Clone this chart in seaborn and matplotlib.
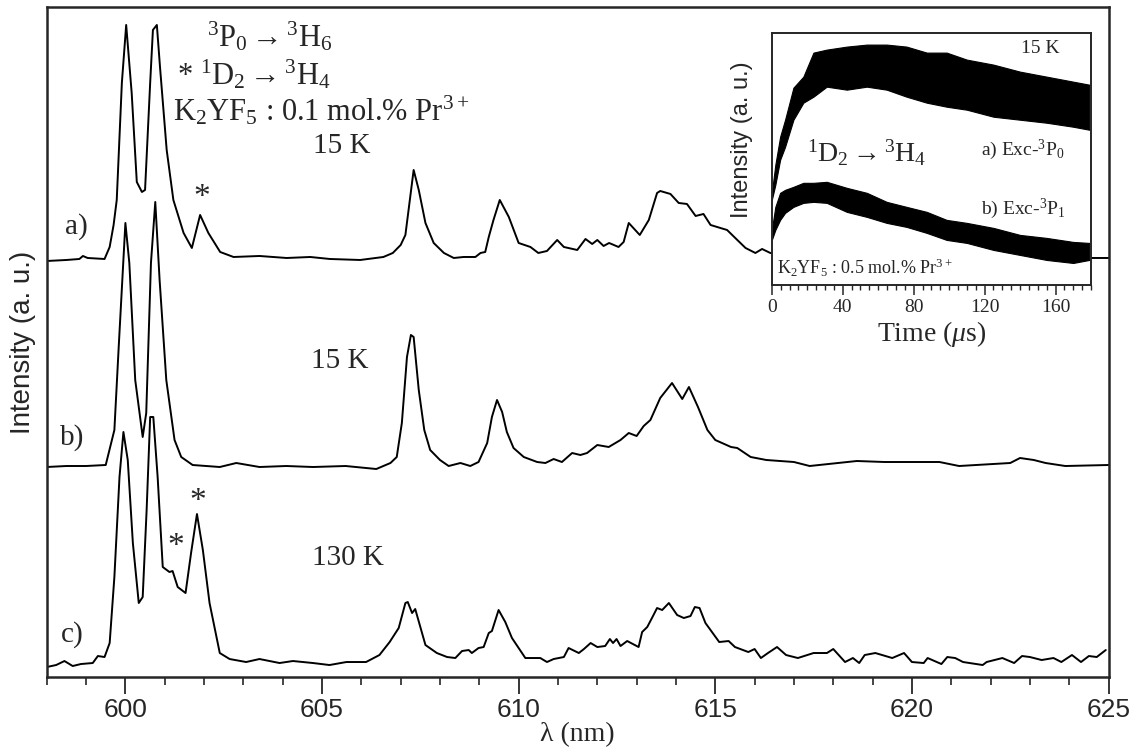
import matplotlib
matplotlib.use("Agg")
from matplotlib import pyplot as plt
from matplotlib.ticker import MultipleLocator
import seaborn as sns
import pandas as pd
import numpy as np

# ---- spectrum a) 15 K, K2YF5:0.1% Pr (vertically offset, a.u.)
wl_a = [598.0, 598.5, 598.83, 598.92, 599.04, 599.47, 599.6, 599.7, 599.78, 599.91, 600.02, 600.16,
        600.29, 600.42, 600.5, 600.63, 600.7, 600.8, 600.88, 601.05, 601.22, 601.48, 601.69, 601.9,
        602.11, 602.41, 602.75, 603.41, 604.1, 604.7, 605.2, 605.97, 606.56, 606.8, 607.0, 607.12,
        607.33, 607.46, 607.63, 607.84, 608.1, 608.35, 608.6, 608.9, 609.03, 609.15, 609.24, 609.36,
        609.52, 609.75, 610.0, 610.3, 610.5, 610.72, 610.98, 611.15, 611.49, 611.7, 611.87, 612.0,
        612.16, 612.3, 612.54, 612.67, 612.8, 613.08, 613.31, 613.52, 613.6, 613.86, 614.07, 614.28,
        614.5, 614.7, 614.88, 615.13, 615.3, 615.56, 615.77, 616.02, 616.19, 616.4, 617.0, 618.0,
        619.0, 620.0, 621.0, 622.0, 623.0, 624.0, 625.0]
int_a = [416, 417, 418, 421, 419, 418, 430, 452, 477, 594, 652, 584,
         495, 485, 487, 594, 647, 652, 610, 527, 477, 444, 429, 462,
         444, 425, 420, 421, 419, 420, 418, 417, 420, 424, 432, 442,
         507, 487, 454, 434, 424, 419, 420, 420, 424, 425, 440, 457,
         477, 460, 434, 430, 424, 426, 437, 430, 427, 438, 433, 437,
         431, 434, 430, 435, 454, 442, 457, 484, 486, 483, 474, 473,
         461, 463, 452, 449, 447, 437, 429, 424, 428, 424, 421, 420,
         420, 420, 420, 420, 420, 419, 419]

# ---- spectrum b) 15 K
wl_b = [598.0, 598.5, 599.0, 599.5, 599.72, 599.83, 600.0, 600.1, 600.25, 600.44, 600.53, 600.65,
        600.76, 600.87, 601.04, 601.25, 601.42, 601.71, 602.4, 602.82, 603.41, 604.09, 604.77, 605.6,
        606.38, 606.74, 606.9, 607.03, 607.16, 607.26, 607.33, 607.46, 607.6, 607.75, 608.0, 608.22,
        608.52, 608.77, 608.98, 609.2, 609.32, 609.45, 609.58, 609.7, 609.87, 610.13, 610.47, 610.68,
        610.89, 611.1, 611.36, 611.57, 611.74, 612.0, 612.29, 612.59, 612.8, 613.0, 613.18, 613.35,
        613.6, 613.9, 614.16, 614.33, 614.56, 614.8, 615.0, 615.4, 615.56, 615.9, 616.3, 617.0,
        617.4, 618.6, 619.3, 620.7, 621.2, 622.5, 622.75, 623.1, 623.4, 623.9, 625.0]
int_b = [210, 211, 211, 212, 247, 330, 454, 414, 297, 240, 264, 414,
         475, 397, 297, 237, 220, 212, 210, 214, 210, 211, 210, 211,
         208, 214, 220, 254, 320, 342, 340, 287, 247, 227, 217, 211,
         214, 211, 215, 234, 260, 277, 265, 245, 229, 220, 215, 214,
         218, 215, 224, 222, 224, 232, 230, 237, 244, 241, 251, 257,
         279, 294, 278, 290, 270, 247, 237, 230, 229, 220, 217, 215,
         211, 216, 215, 215, 211, 214, 219, 217, 214, 211, 212]

# ---- spectrum c) 130 K
wl_c = [598.0, 598.24, 598.45, 598.66, 598.87, 599.17, 599.3, 599.47, 599.6, 599.72, 599.85, 599.95,
        600.06, 600.19, 600.34, 600.44, 600.54, 600.63, 600.71, 600.82, 600.95, 601.12, 601.2, 601.33,
        601.53, 601.67, 601.82, 601.97, 602.14, 602.4, 602.65, 603.07, 603.41, 603.92, 604.26, 604.77,
        605.19, 605.62, 606.12, 606.46, 606.72, 606.95, 607.12, 607.18, 607.29, 607.37, 607.5, 607.63,
        607.92, 608.18, 608.39, 608.56, 608.73, 608.81, 608.98, 609.11, 609.24, 609.32, 609.49, 609.66,
        609.83, 610.0, 610.17, 610.55, 610.72, 610.89, 611.15, 611.27, 611.53, 611.66, 611.83, 612.0,
        612.2, 612.32, 612.4, 612.49, 612.59, 612.76, 613.05, 613.14, 613.27, 613.39, 613.52, 613.65,
        613.82, 614.03, 614.2, 614.37, 614.48, 614.6, 614.75, 615.1, 615.34, 615.5, 615.84, 616.0,
        616.16, 616.34, 616.57, 616.8, 617.1, 617.5, 617.84, 618.0, 618.3, 618.5, 618.66, 618.8,
        619.07, 619.5, 619.8, 620.0, 620.3, 620.4, 620.75, 620.9, 621.1, 621.3, 621.8, 621.9,
        622.3, 622.6, 622.8, 623.0, 623.3, 623.6, 623.8, 624.07, 624.3, 624.5, 624.7, 624.93]
int_c = [10, 12, 16, 11, 13, 14, 21, 20, 34, 100, 200, 245,
         217, 134, 74, 80, 167, 260, 260, 200, 110, 105, 106, 90,
         84, 124, 163, 127, 74, 24, 18, 15, 18, 14, 16, 14,
         12, 15, 15, 22, 35, 49, 74, 75, 64, 68, 50, 32,
         24, 20, 19, 26, 27, 24, 29, 30, 44, 46, 67, 55,
         39, 29, 19, 19, 15, 18, 20, 29, 24, 28, 34, 30,
         31, 38, 34, 38, 31, 36, 30, 45, 50, 59, 69, 67,
         74, 62, 59, 61, 70, 69, 54, 35, 36, 30, 25, 28,
         19, 24, 30, 22, 19, 24, 24, 28, 15, 19, 14, 22,
         24, 19, 24, 15, 14, 19, 13, 20, 19, 15, 12, 15,
         19, 14, 21, 20, 17, 19, 15, 22, 15, 21, 20, 27]

# ---- inset: 1D2 -> 3H4 decay curves, envelope of the noisy traces (a.u.)
t_in = [0, 2, 4.7, 7.5, 12.2, 17.8, 23.5, 31, 42.3, 53.6, 64.8, 76, 87.4, 98.6, 110, 125, 140, 155, 170, 179]
a_hi = [92, 120, 148, 165, 197, 208, 232, 235, 238, 240, 240, 238, 232, 232, 225, 220, 213, 208, 203, 200]
a_lo = [85, 100, 125, 138, 165, 182, 188, 198, 195, 198, 195, 188, 182, 178, 175, 168, 165, 162, 158, 155]
b_hi = [55, 78, 92, 95, 98, 102, 102, 103, 97, 92, 83, 78, 73, 65, 62, 57, 50, 47, 43, 42]
b_lo = [45, 55, 65, 72, 78, 82, 83, 82, 73, 68, 62, 58, 52, 45, 42, 35, 30, 25, 22, 25]

sns.set_style("ticks")
plt.rcParams['font.family'] = ['Liberation Serif', 'DejaVu Serif']
plt.rcParams['mathtext.fontset'] = 'custom'
plt.rcParams['mathtext.rm'] = 'Liberation Serif'
plt.rcParams['mathtext.it'] = 'Liberation Serif:italic'

fig = plt.figure(figsize=(11.4, 7.49), dpi=100)
ax = fig.add_axes([0.041, 0.0961, 0.9314, 0.8946])

for wl, it in [(wl_a, int_a), (wl_b, int_b), (wl_c, int_c)]:
    d = pd.DataFrame({"wl": wl, "I": it})
    sns.lineplot(x="wl", y="I", data=d, ax=ax, color="black", lw=1.4, sort=False)

ax.set_xlim(598, 625)
ax.set_ylim(0, 670)
ax.set_yticks([])
ax.xaxis.set_major_locator(MultipleLocator(5))
ax.xaxis.set_minor_locator(MultipleLocator(1))
ax.tick_params(axis="x", which="major", length=12, width=1.3, direction="out", labelsize=19, pad=3)
ax.tick_params(axis="x", which="minor", length=6, width=1.2, direction="out")
for lab in ax.get_xticklabels():
    lab.set_family(['Liberation Sans Narrow', 'Liberation Sans'])
for s in ax.spines.values():
    s.set_linewidth(1.8)
ax.set_xlabel("λ (nm)", fontsize=20, labelpad=0)
ax.set_ylabel("Intensity (a. u.)", fontsize=20, family=['Liberation Sans'])
ax.yaxis.set_label_coords(-0.01, 0.5)

tr = ax.transAxes
ax.text(0.151, 0.955, r"$^3$P$_0$$\rightarrow$$^3$H$_6$", transform=tr, fontsize=22, ha="left", va="center")
ax.text(0.1227, 0.8985, r"* $^1$D$_2$$\rightarrow$$^3$H$_4$", transform=tr, fontsize=22, ha="left", va="center")
ax.text(0.1189, 0.846, r"K$_2$YF$_5$ : 0.1 mol.% Pr$^{3+}$", transform=tr, fontsize=22, ha="left", va="center")
ax.text(0.278, 0.7925, "15 K", transform=tr, fontsize=21, ha="center", va="center")
ax.text(0.2762, 0.4716, "15 K", transform=tr, fontsize=21, ha="center", va="center")
ax.text(0.2837, 0.1776, "130 K", transform=tr, fontsize=21, ha="center", va="center")
ax.text(0.0276, 0.6716, "a)", transform=tr, fontsize=21, ha="center", va="center")
ax.text(0.0238, 0.358, "b)", transform=tr, fontsize=21, ha="center", va="center")
ax.text(0.0238, 0.0627, "c)", transform=tr, fontsize=21, ha="center", va="center")
ax.text(0.1463, 0.715, "*", transform=tr, fontsize=24, ha="center", va="center")
ax.text(0.1218, 0.195, "*", transform=tr, fontsize=24, ha="center", va="center")
ax.text(0.1425, 0.262, "*", transform=tr, fontsize=24, ha="center", va="center")

# ---- inset
axi = fig.add_axes([0.677, 0.6195, 0.280, 0.337])
axi.set_facecolor("white")
axi.fill_between(t_in, a_lo, a_hi, color="black", lw=0.8)
axi.fill_between(t_in, b_lo, b_hi, color="black", lw=0.8)
axi.set_xlim(0, 180)
axi.set_ylim(0, 252)
axi.set_yticks([])
axi.xaxis.set_major_locator(MultipleLocator(40))
axi.xaxis.set_minor_locator(MultipleLocator(5))
axi.tick_params(axis="x", which="major", length=7, width=1.1, direction="out", labelsize=14, pad=3)
axi.tick_params(axis="x", which="minor", length=3.5, width=1.0, direction="out")
for s in axi.spines.values():
    s.set_linewidth(1.4)
axi.set_xlabel(r"Time ($\mu$s)", fontsize=20, labelpad=2)
axi.set_ylabel("Intensity (a. u.)", fontsize=17, family=['Liberation Sans'])
axi.yaxis.set_label_coords(-0.06, 0.575)
ti = axi.transAxes
axi.text(0.84, 0.935, "15 K", transform=ti, fontsize=14, ha="center", va="center")
axi.text(0.787, 0.535, r"a) Exc-$^3$P$_0$", transform=ti, fontsize=14, ha="center", va="center")
axi.text(0.787, 0.30, r"b) Exc-$^3$P$_1$", transform=ti, fontsize=14, ha="center", va="center")
axi.text(0.2987, 0.523, r"$^1$D$_2$$\rightarrow$$^3$H$_4$", transform=ti, fontsize=20, ha="center", va="center")
axi.text(0.0166, 0.0666, r"K$_2$YF$_5$ : 0.5 mol.% Pr$^{3+}$", transform=ti, fontsize=13, ha="left", va="center")

fig.savefig("out.png", dpi=100)
